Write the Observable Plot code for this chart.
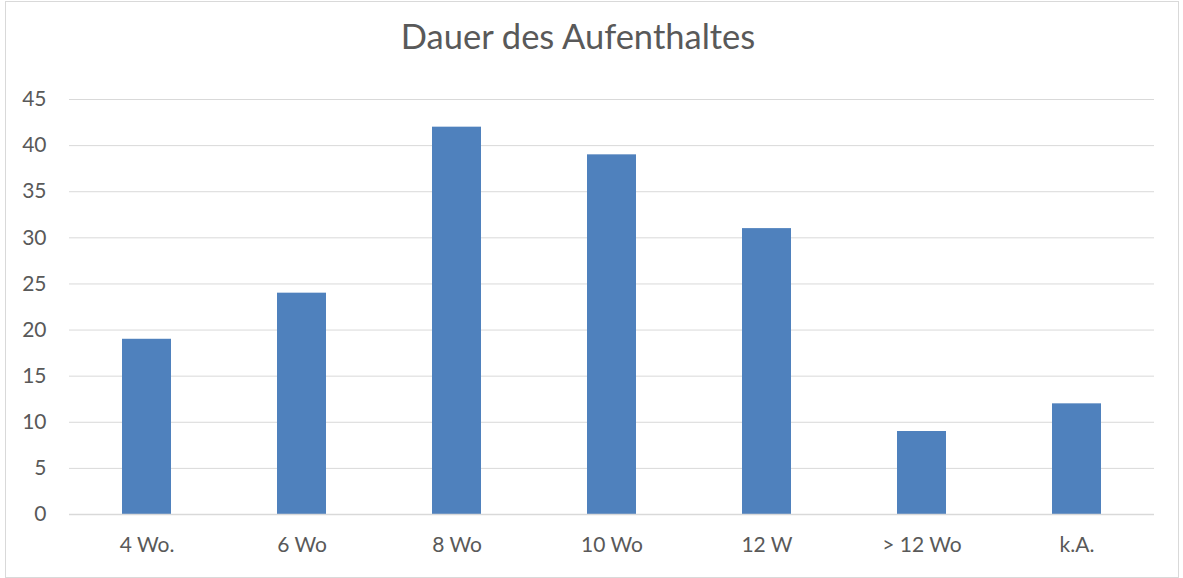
<!DOCTYPE html>
<html>
<head>
<meta charset="utf-8">
<script src="https://cdn.jsdelivr.net/npm/d3@7"></script>
<script src="https://cdn.jsdelivr.net/npm/@observablehq/plot@0.6"></script>
<style>
  body { margin: 0; background: #fff; font-family: Lato, "Open Sans", sans-serif; }
  #wrap { position: absolute; left: 5px; top: 1px; width: 1172px; height: 575px; border: 1px solid #d9d9d9; background: #fff; }
  #title { height: 72px; line-height: 68px; text-align: center; font-size: 34.5px; color: #595959; padding-right: 28px; }
</style>
</head>
<body>
<div id="wrap">
  <div id="title">Dauer des Aufenthaltes</div>
  <div id="chart"></div>
</div>
<script>
const categories = ["4 Wo.", "6 Wo", "8 Wo", "10 Wo", "12 W", "> 12 Wo", "k.A."];
const values = [19, 24, 42, 39, 31, 9, 12];
const yTicks = [0, 5, 10, 15, 20, 25, 30, 35, 40, 45];

const data = categories.map((c, i) => ({category: c, value: values[i]}));

const chart = Plot.plot({
  width: 1172,
  height: 503,
  marginTop: 25,
  marginBottom: 63,
  marginLeft: 63,
  marginRight: 24,
  style: {fontFamily: "Lato, 'Open Sans', sans-serif", fontSize: "21px", color: "#595959", background: "#fff"},
  x: {domain: categories, paddingInner: 0.684, paddingOuter: 0.342, label: null, tickSize: 0, tickPadding: 23},
  y: {domain: [0, 45], ticks: yTicks, label: null, tickSize: 0, tickPadding: 23},
  marks: [
    Plot.gridY(yTicks, {stroke: "#d9d9d9", strokeOpacity: 1, strokeWidth: 1}),
    Plot.barY(data, {x: "category", y: "value", fill: "#4f81bd"}),
    Plot.ruleY([0], {stroke: "#d9d9d9", strokeWidth: 1.5})
  ]
});
document.getElementById("chart").appendChild(chart);
</script>
</body>
</html>
